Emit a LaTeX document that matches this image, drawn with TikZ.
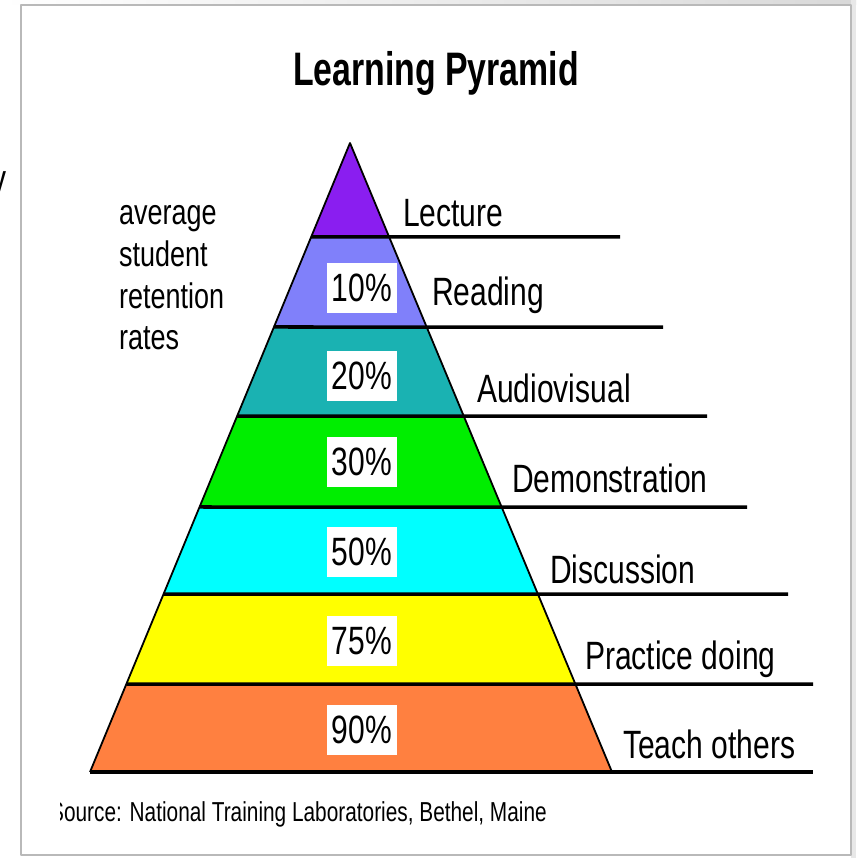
\documentclass[tikz,border=0pt]{standalone}
\usepackage{fontspec}
\setmainfont{Liberation Sans}
\newfontfamily\narrowfont[FakeStretch=0.76]{Liberation Sans}
\newfontfamily\titlefont[FakeStretch=0.72]{Liberation Sans}
\usetikzlibrary{calc,positioning}

\definecolor{lecturecol}{RGB}{138,30,240}
\definecolor{readingcol}{RGB}{128,128,250}
\definecolor{avcol}{RGB}{26,178,178}
\definecolor{democol}{RGB}{0,238,0}
\definecolor{discol}{RGB}{0,255,255}
\definecolor{practicecol}{RGB}{255,255,0}
\definecolor{teachcol}{RGB}{255,128,64}

\begin{document}
\begin{tikzpicture}[x=1pt, y=-1pt, line join=round,
    band/.style={line width=3.5pt},
    edge/.style={line width=1.8pt},
    pct/.style={fill=white, minimum width=70pt, minimum height=50pt, inner sep=0pt,
      font=\narrowfont\fontsize{39.5}{42}\selectfont},
    lbl/.style={anchor=base west, inner sep=0pt, font=\narrowfont\fontsize{39.5}{42}\selectfont},
    side/.style={anchor=base west, inner sep=0pt, font=\narrowfont\fontsize{35.5}{40}\selectfont}]
  % page and frame
  \clip (0,0) rectangle (856,858);
  \fill[white] (0,0) rectangle (856,858);
  \shade[left color=white, right color=gray!30] (0,0) rectangle (856,5);
  \fill[gray!18] (851,0) rectangle (856,858);
  \draw[gray!55, line width=1.5pt] (21,5) rectangle (851,855);

  \node[lbl] (cut-y) at (-9,192.5) {y};

  \node[anchor=base, inner sep=0pt, font=\titlefont\bfseries\fontsize{47}{50}\selectfont]
    (title) at (436,86) {Learning Pyramid};

  \coordinate (apex) at (350,143);
  \coordinate (baseL) at (90,772);
  \coordinate (baseR) at (612,772);

  % coloured bands inside the triangle
  \begin{scope}
    \clip (apex) -- (baseL) -- (baseR) -- cycle;
    \foreach \ytop/\ybot/\col in {143/237/lecturecol, 237/327/readingcol, 327/416/avcol,
        416/507/democol, 507/594/discol, 594/684/practicecol, 684/772/teachcol}
      \fill[\col] (80,\ytop) rectangle (620,\ybot);
  \end{scope}

  % percentage boxes
  \foreach \yc/\p [count=\i] in {288/10, 376/20, 462/30, 552/50, 641/75, 730/90}
    \node[pct] (pct-\i) at (362,\yc) {\p\%};

  % dividing lines and method names
  \foreach \yl/\xend/\xt/\yt/\name [count=\i] in {237/620/403/227/Lecture,
      327/663/432/305/Reading, 416/707/477/402/Audiovisual,
      507/747/512/492/Demonstration, 594/788/550/583/Discussion,
      684/813/585/669/Practice doing, 772/813/623/758/Teach others}
  {
    \pgfmathsetmacro{\t}{(\yl-143)/629}
    \draw[band] ($(apex)!\t!(baseL)$) -- (\xend,\yl);
    \node[lbl] (lbl-\i) at (\xt,\yt) {\name};
  }

  \draw[edge] (baseL) -- (apex) -- (baseR);

  % side caption
  \foreach \w/\yb in {average/225, student/267, retention/308, rates/349}
    \node[side] (side-\w) at (119,\yb) {\w};

  \begin{scope}
    \clip (60,790) rectangle (620,840);
    \node[anchor=base west, inner sep=0pt, font=\narrowfont\fontsize{27.4}{29}\selectfont]
      (source) at (50,821) {Source: National Training Laboratories, Bethel, Maine};
  \end{scope}
\end{tikzpicture}
\end{document}
